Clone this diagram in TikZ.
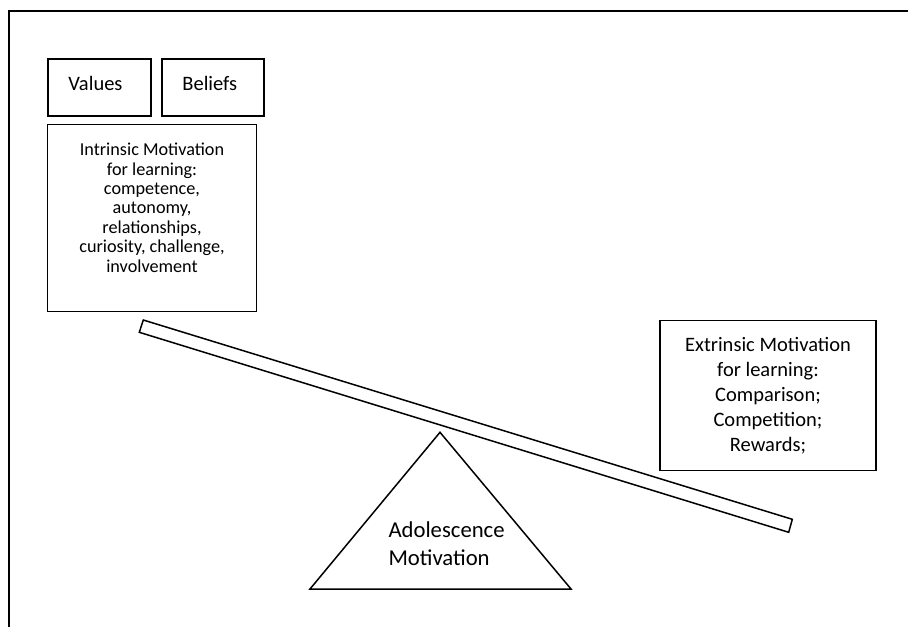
\documentclass[tikz,border=0pt]{standalone}
\usepackage{fontspec}
\setmainfont{Carlito}
\usetikzlibrary{calc}
\begin{document}
\begin{tikzpicture}[x=1pt,y=-1pt,
  box/.style={draw, line width=1.5pt, inner sep=0pt},
  lbl/.style={inner sep=0pt, align=center},
  thinline/.style={line width=1.5pt, line join=miter},
  frameline/.style={line width=2pt}]
\useasboundingbox (0,0) rectangle (908,627);
% outer frame (top and left sides only)
\coordinate (fbl) at (8.5,627);
\coordinate (ftl) at (8.5,10.5);
\coordinate (ftr) at (908,10.5);
\draw[frameline] (fbl) -- (ftl) -- (ftr);
% Values / Beliefs
\node[box, minimum width=103pt, minimum height=57pt] (valbox) at (99.5,87.5) {};
\node[lbl, font=\fontsize{20.5}{24}\selectfont] (val) at (95.5,83.5) {Values};
\node[box, minimum width=102pt, minimum height=57pt] (belbox) at (213,87.5) {};
\node[lbl, font=\fontsize{20.5}{24}\selectfont] (bel) at (209.8,83.5) {Beliefs};
% Intrinsic
\node[box, minimum width=209pt, minimum height=187.4pt] (intrbox) at (152.2,218) {};
\node[lbl, anchor=north, font=\fontsize{18.2}{19.4}\selectfont] (intr) at (152,143)
  {Intrinsic Motivation\\for learning:\\competence,\\autonomy,\\relationships,\\curiosity, challenge,\\involvement};
% Extrinsic
\node[box, minimum width=216pt, minimum height=150pt, align=center,
  font=\fontsize{20.5}{25}\selectfont] (extr) at (768,395.7)
  {Extrinsic Motivation\\for learning:\\Comparison;\\Competition;\\Rewards;};
% plank
\coordinate (p1) at (143.3,320);
\coordinate (p2) at (792.3,519.3);
\coordinate (p3) at (788.7,532.3);
\coordinate (p4) at (139.3,332.3);
\draw[thinline] (p1) -- (p2) -- (p3) -- (p4) -- cycle;
% fulcrum
\coordinate (apex) at (440,432.3);
\coordinate (tbl) at (310,589);
\coordinate (tbr) at (571,589);
\draw[thinline] (apex) -- (tbr) -- (tbl) -- cycle;
\node[inner sep=0pt, anchor=north west, align=left,
  font=\fontsize{22.7}{27.4}\selectfont] (adol) at (388.3,522)
  {Adolescence\\Motivation};
\end{tikzpicture}
\end{document}
